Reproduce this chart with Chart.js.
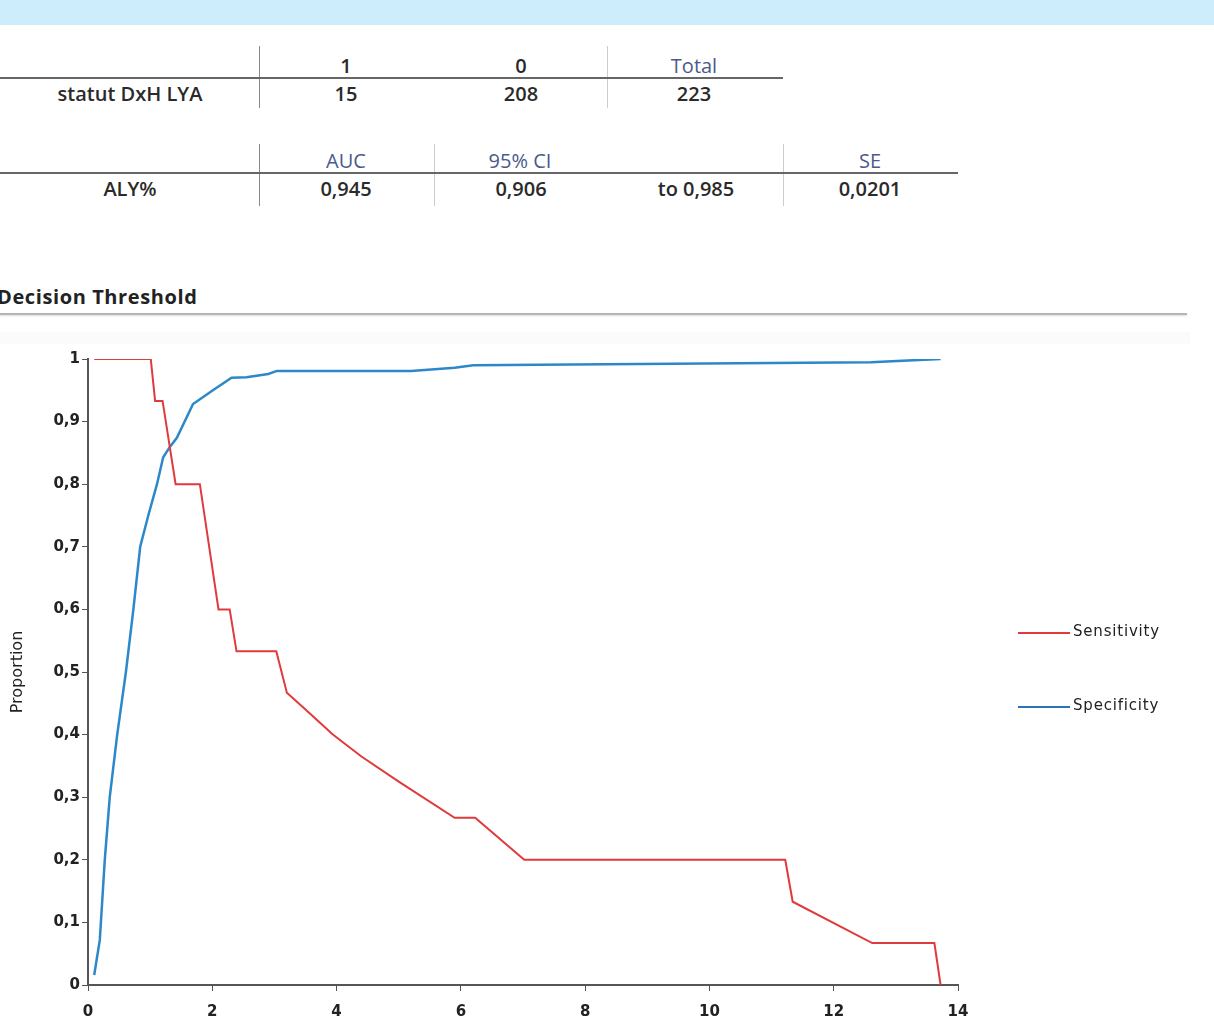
<!DOCTYPE html>
<html>
<head>
<meta charset="utf-8">
<script src="https://cdn.jsdelivr.net/npm/chart.js@4.4.1/dist/chart.umd.min.js"></script>
<style>
  html, body { margin:0; padding:0; background:#fff; width:1214px; height:1036px; overflow:hidden; }
  body { position:relative; font-family: "Open Sans", Lato, sans-serif; color:#222; }
  .band { position:absolute; left:0; top:0; width:1214px; height:25px; background:#cdecfc; }
  .t { position:absolute; font-size:20px; font-weight:600; transform:translateX(-50%); white-space:nowrap; line-height:20px; color:#2a2a2a; }
  .hd { color:#4b5a8c; font-weight:400; }
  .hl { position:absolute; height:2px; background:#666; }
  .vl { position:absolute; width:1px; background:#999; }
  .vl.light { background:#ccc; }
  .title { position:absolute; left:-3px; top:283px; font-size:20px; font-weight:bold; color:#222; letter-spacing:0.6px; }
  .rule { position:absolute; left:0; top:313px; width:1187px; height:2px; background:#b5b5b5; box-shadow:0 1px 2px #ddd; }
  .faint { position:absolute; left:0; top:332px; width:1190px; height:12px; background:#fbfbfb; }
  #wrap { position:absolute; left:0; top:330px; width:1214px; height:706px; }
  .leg { position:absolute; font-family:"DejaVu Sans", sans-serif; font-size:15px; color:#222; letter-spacing:0.8px; }
  .leg span.ln { position:absolute; left:0; top:10px; width:52px; height:2px; }
  .leg span.tx { position:absolute; left:55px; top:0; white-space:nowrap; }
</style>
</head>
<body>
<div class="band"></div>

<!-- table 1 -->
<div class="vl" style="left:259px;top:46px;height:62px;background:#888"></div>
<div class="vl light" style="left:607px;top:46px;height:62px"></div>
<div class="hl" style="left:0;top:77px;width:783px"></div>
<div class="t" style="left:346px;top:56px">1</div>
<div class="t" style="left:521px;top:56px">0</div>
<div class="t hd" style="left:694px;top:56px">Total</div>
<div class="t" style="left:130px;top:84px">statut DxH LYA</div>
<div class="t" style="left:346px;top:84px">15</div>
<div class="t" style="left:521px;top:84px">208</div>
<div class="t" style="left:694px;top:84px">223</div>

<!-- table 2 -->
<div class="vl" style="left:259px;top:144px;height:62px;background:#888"></div>
<div class="vl light" style="left:434px;top:144px;height:62px"></div>
<div class="vl light" style="left:783px;top:144px;height:62px"></div>
<div class="hl" style="left:0;top:172px;width:958px"></div>
<div class="t hd" style="left:346px;top:151px">AUC</div>
<div class="t hd" style="left:520px;top:151px">95% CI</div>
<div class="t hd" style="left:870px;top:151px">SE</div>
<div class="t" style="left:130px;top:179px">ALY%</div>
<div class="t" style="left:346px;top:179px">0,945</div>
<div class="t" style="left:521px;top:179px">0,906</div>
<div class="t" style="left:696px;top:179px">to 0,985</div>
<div class="t" style="left:870px;top:179px">0,0201</div>

<div class="title">Decision Threshold</div>
<div class="rule"></div>
<div class="faint"></div>

<div id="wrap"><canvas id="c" width="1214" height="706"></canvas></div>

<div class="leg" style="left:1018px;top:622px"><span class="ln" style="background:#e03a3c"></span><span class="tx">Sensitivity</span></div>
<div class="leg" style="left:1018px;top:696px"><span class="ln" style="background:#2b73b8"></span><span class="tx">Specificity</span></div>

<script>
// ---- data ----
const seriesNames = ["Sensitivity", "Specificity"];
const sensX = [0.1, 1.01, 1.08, 1.2, 1.41, 1.8, 2.1, 2.28, 2.39, 3.03, 3.2, 3.5, 3.94, 4.4, 5.0, 5.9, 6.23, 7.02, 11.22, 11.34, 12.62, 13.62, 13.72];
const sensY = [1, 1, 0.933, 0.933, 0.8, 0.8, 0.6, 0.6, 0.533, 0.533, 0.467, 0.44, 0.4, 0.365, 0.325, 0.267, 0.267, 0.2, 0.2, 0.133, 0.067, 0.067, 0];
const specX = [0.1, 0.19, 0.27, 0.35, 0.47, 0.61, 0.73, 0.84, 0.97, 1.11, 1.21, 1.32, 1.43, 1.69, 2.01, 2.31, 2.55, 2.9, 3.04, 5.2, 5.9, 6.2, 12.6, 13.72];
const specY = [0.016, 0.072, 0.2, 0.3, 0.4, 0.5, 0.6, 0.7, 0.75, 0.8, 0.843, 0.86, 0.874, 0.928, 0.95, 0.97, 0.971, 0.976, 0.981, 0.981, 0.986, 0.99, 0.995, 1.0];
const xTicks = [0, 2, 4, 6, 8, 10, 12, 14];
const yTicks = [0, 0.1, 0.2, 0.3, 0.4, 0.5, 0.6, 0.7, 0.8, 0.9, 1];
const yTitle = "Proportion";

const pts = (xs, ys) => xs.map((x, i) => ({x, y: ys[i]}));
const fmt = v => String(Math.round(v * 10) / 10).replace('.', ',');

new Chart(document.getElementById('c'), {
  type: 'scatter',
  data: {
    datasets: [
      { label: seriesNames[0], data: pts(sensX, sensY), showLine: true, borderColor: '#e03a3c', borderWidth: 2, pointRadius: 0, tension: 0 },
      { label: seriesNames[1], data: pts(specX, specY), showLine: true, borderColor: '#2c88c8', borderWidth: 2.5, pointRadius: 0, tension: 0 }
    ]
  },
  options: {
    responsive: false,
    animation: false,
    layout: { padding: { left: 0, right: 256, top: 29, bottom: 0 } },
    plugins: { legend: { display: false }, tooltip: { enabled: false } },
    scales: {
      x: {
        type: 'linear', min: 0, max: 14,
        afterBuildTicks: s => { s.ticks = xTicks.map(v => ({value: v})); },
        afterFit: s => { s.height = 51; },
        ticks: { color: '#222', font: { family: 'DejaVu Sans', size: 15, weight: 'bold' }, padding: 12, maxRotation: 0 },
        grid: { drawOnChartArea: false, drawTicks: true, tickLength: 6, color: '#555', lineWidth: 1 },
        border: { display: true, color: '#555', width: 2 }
      },
      y: {
        type: 'linear', min: 0, max: 1,
        afterBuildTicks: s => { s.ticks = yTicks.map(v => ({value: v})); },
        afterFit: s => { s.width = 88; },
        ticks: { color: '#222', font: { family: 'DejaVu Sans', size: 15, weight: 'bold' }, padding: 2, callback: v => fmt(v) },
        grid: { drawOnChartArea: false, drawTicks: true, tickLength: 6, color: '#555', lineWidth: 1 },
        border: { display: true, color: '#555', width: 2 },
        title: { display: true, text: yTitle, color: '#222', font: { family: 'DejaVu Sans', size: 16 }, padding: { top: 8, bottom: 0 } }
      }
    }
  }
});
</script>
</body>
</html>
